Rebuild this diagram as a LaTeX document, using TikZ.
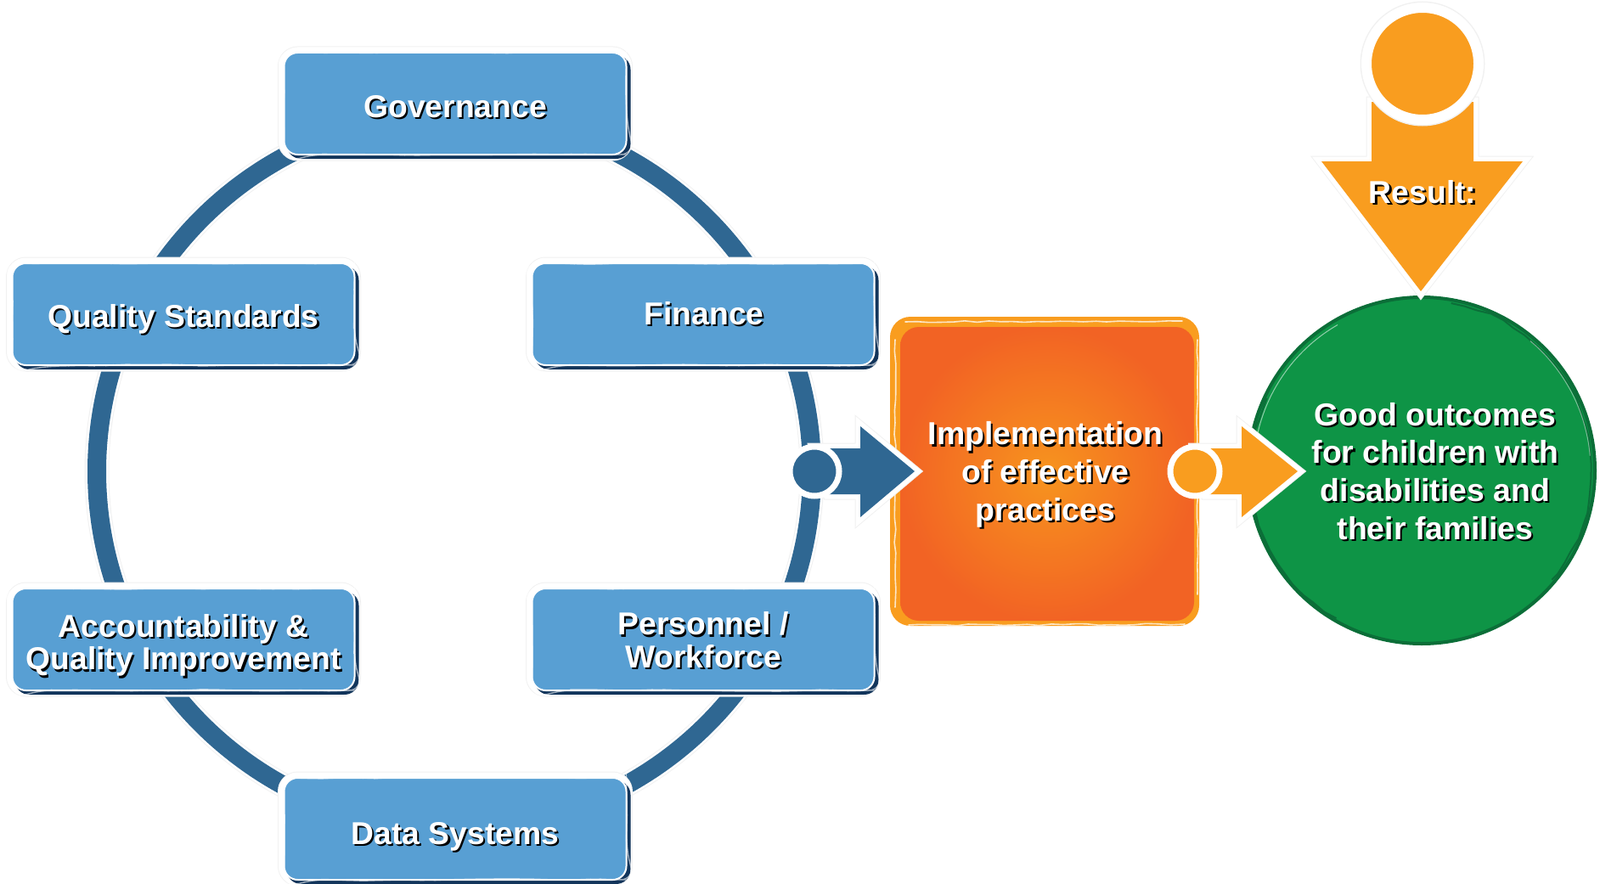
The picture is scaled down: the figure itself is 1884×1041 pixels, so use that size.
\documentclass[tikz,border=0pt]{standalone}
\usepackage{fontspec}
\setmainfont{Liberation Sans}[BoldFont={Liberation Sans Bold}]
\usetikzlibrary{decorations.pathmorphing,calc}
\definecolor{boxblue}{HTML}{589FD3}
\definecolor{ringblue}{HTML}{2F6792}
\definecolor{shadowblue}{HTML}{12355B}
\definecolor{amber}{HTML}{F99D1F}
\definecolor{deeporange}{HTML}{F26324}
\definecolor{midorange}{HTML}{F7941E}
\definecolor{greenfill}{HTML}{0E9446}
\definecolor{greenline}{HTML}{0B6E38}
\definecolor{halo}{HTML}{F1F1F1}
\newcommand{\shtxt}[1]{\leavevmode\rlap{\kern2.2pt\raisebox{-2.2pt}{\color{black}#1}}{\color{white}#1}}
\tikzset{
  x=1pt,y=-1pt,
  boxfont/.style={font=\fontsize{37.3}{38.5}\selectfont\bfseries},
  txt/.style={boxfont,align=center,text=white,inner sep=0pt},
  bluebox/.style={rounded corners=16pt,minimum width=403pt,minimum height=120pt,inner sep=0pt,
    fill=boxblue,draw=white,line width=2pt,
    preaction={draw=halo,line width=15pt,fill=white},
    preaction={draw=white,line width=13pt},
    preaction={fill=shadowblue,draw=shadowblue,line width=2pt,transform canvas={shift={(4pt,-4pt)}}},
    postaction={draw=white,opacity=.6,line width=1.4pt,decorate,decoration={random steps,segment length=22pt,amplitude=1.3pt}}},
  haloed/.style={preaction={draw=halo,line width=13pt,line join=miter},preaction={draw=white,line width=11pt,line join=miter}},
  streak/.style={draw=white,line width=1.6pt,line cap=round,opacity=.75,decorate,decoration={random steps,segment length=14pt,amplitude=1pt}},
  roughgreen/.style={draw=greenline,line width=2pt,decorate,decoration={random steps,segment length=16pt,amplitude=1.2pt}}
}
\begin{document}
\begin{tikzpicture}
\useasboundingbox (0,0) rectangle (1884,1041);
% ring
\node[circle,draw=halo,line width=29pt,minimum size=842pt,inner sep=0pt] (ringhalo) at (535,555) {};
\node[circle,draw=white,line width=27pt,minimum size=842pt,inner sep=0pt] (ringwhite) at (535,555) {};
\node[circle,draw=ringblue,line width=22pt,minimum size=842pt,inner sep=0pt] (ring) at (535,555) {};
% boxes
\node[bluebox] (gov) at (536,122) {};
\node[bluebox] (qual) at (216,370) {};
\node[bluebox] (fin) at (828,370) {};
\node[bluebox] (acc) at (216,753) {};
\node[bluebox] (pers) at (828,753) {};
\node[bluebox] (data) at (536,976) {};
\node[txt] (govt) at (536,127) {\shtxt{Governance}};
\node[txt] (qualt) at (216,377) {\shtxt{Quality Standards}};
\node[txt] (fint) at (829,370) {\shtxt{Finance}};
\node[txt] (acct) at (216,761) {\shtxt{Accountability \&}\\\shtxt{Quality Improvement}};
\node[txt] (perst) at (828,755) {\shtxt{Personnel /}\\\shtxt{Workforce}};
\node[txt] (datat) at (536,986) {\shtxt{Data Systems}};
% practice box
\node[rounded corners=24pt,minimum width=364pt,minimum height=364pt,fill=amber,draw=none] (pracouter) at (1230,555) {};
\shade[rounded corners=22pt,inner color=midorange,outer color=deeporange,shading=radial]
  (1060,385) rectangle (1406,731);
\draw[streak] (1066,379) -- (1392,378);
\draw[streak] (1054,400) -- (1054,715);
\draw[streak] (1410,400) -- (1410,700);
\draw[streak] (1070,736) -- (1395,735);
\node[txt,font=\fontsize{37.4}{44.6}\selectfont\bfseries] (prac) at (1231,560) {\shtxt{Implementation}\\\shtxt{of effective}\\\shtxt{practices}};
% outcomes circle
\node[circle,fill=greenfill,draw=greenline,line width=4pt,minimum size=408pt,inner sep=0pt] (good) at (1674,554) {};
\draw[roughgreen] (good.center) ++(120:201) arc (120:205:201);
\draw[roughgreen] (good.center) ++(-80:200) arc (-80:40:200);
\draw[white,line width=1pt,opacity=.55] (good.center) ++(-120:198) arc (-120:-168:198);
\draw[white,line width=1pt,opacity=.45] (good.center) ++(-5:199) arc (-5:-50:199);
\node[txt,font=\fontsize{37.4}{44.6}\selectfont\bfseries] (goodtxt) at (1690,556) {\shtxt{Good outcomes}\\\shtxt{for children with}\\\shtxt{disabilities and}\\\shtxt{their families}};
% dark arrow
\coordinate (da) at (959,555);
\draw[fill=ringblue,draw=none,haloed] (da) ++(0,-27) -- (1013,528) -- (1013,502) -- (1077,555) -- (1013,609) -- (1013,582) -- (975,582) -- cycle;
\node[circle,fill=ringblue,draw=white,line width=7pt,minimum size=58pt,inner sep=0pt] (dc) at (da) {};
% orange arrow
\coordinate (oa) at (1407,555);
\draw[fill=amber,draw=none,haloed] (oa) ++(0,-27) -- (1462,528) -- (1462,502) -- (1528,555) -- (1462,609) -- (1462,582) -- (1420,582) -- cycle;
\node[circle,fill=amber,draw=white,line width=7pt,minimum size=58pt,inner sep=0pt] (oc) at (oa) {};
% top arrow
\coordinate (ta) at (1675,75);
\draw[fill=amber,draw=none,haloed] (1615,120) -- (1735,120) -- (1735,190) -- (1793,190) -- (1673,343) -- (1556,190) -- (1615,190) -- cycle;
\node[circle,draw=white,line width=12pt,minimum size=132pt,inner sep=0pt,fill=amber,preaction={draw=halo,line width=15pt}] (tc) at (ta) {};
\node[txt] (res) at (1675,227) {\shtxt{Result:}};
\end{tikzpicture}
\end{document}
